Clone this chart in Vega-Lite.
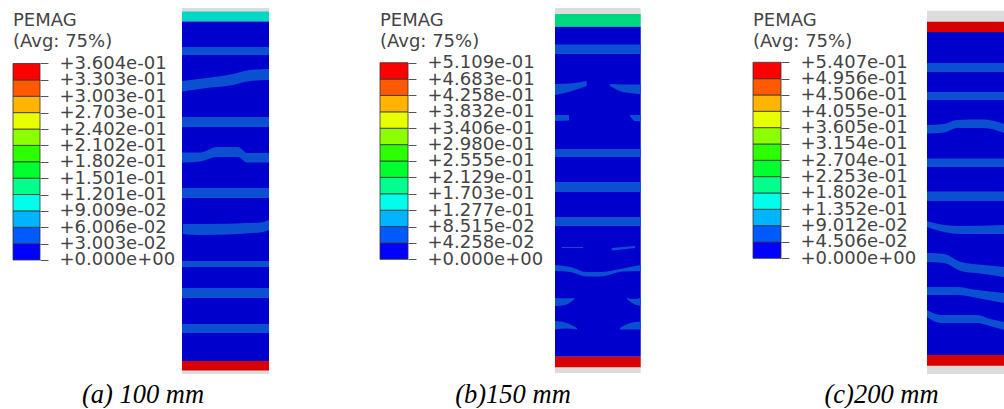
{"$schema":"https://vega.github.io/schema/vega-lite/v6.json","padding":{"left":12,"top":8,"right":0,"bottom":0},"background":"white","config":{"view":{"stroke":null},"title":{"font":"DejaVu Sans","fontSize":18,"fontWeight":"normal","color":"#444444","lineHeight":21,"anchor":"start","frame":"group"}},"bounds":"flush","spacing":0,
"datasets":{
"a_cells":[{"level":"L1","lo":0,"hi":0.03003},{"level":"L2","lo":0.03003,"hi":0.06006},{"level":"L3","lo":0.06006,"hi":0.09009},{"level":"L4","lo":0.09009,"hi":0.1201},{"level":"L5","lo":0.1201,"hi":0.1501},{"level":"L6","lo":0.1501,"hi":0.1802},{"level":"L7","lo":0.1802,"hi":0.2102},{"level":"L8","lo":0.2102,"hi":0.2402},{"level":"L9","lo":0.2402,"hi":0.2703},{"level":"L10","lo":0.2703,"hi":0.3003},{"level":"L11","lo":0.3003,"hi":0.3303},{"level":"L12","lo":0.3303,"hi":0.3604}],
"b_cells":[{"level":"L1","lo":0,"hi":0.04258},{"level":"L2","lo":0.04258,"hi":0.08515},{"level":"L3","lo":0.08515,"hi":0.1277},{"level":"L4","lo":0.1277,"hi":0.1703},{"level":"L5","lo":0.1703,"hi":0.2129},{"level":"L6","lo":0.2129,"hi":0.2555},{"level":"L7","lo":0.2555,"hi":0.298},{"level":"L8","lo":0.298,"hi":0.3406},{"level":"L9","lo":0.3406,"hi":0.3832},{"level":"L10","lo":0.3832,"hi":0.4258},{"level":"L11","lo":0.4258,"hi":0.4683},{"level":"L12","lo":0.4683,"hi":0.5109}],
"c_cells":[{"level":"L1","lo":0,"hi":0.04506},{"level":"L2","lo":0.04506,"hi":0.09012},{"level":"L3","lo":0.09012,"hi":0.1352},{"level":"L4","lo":0.1352,"hi":0.1802},{"level":"L5","lo":0.1802,"hi":0.2253},{"level":"L6","lo":0.2253,"hi":0.2704},{"level":"L7","lo":0.2704,"hi":0.3154},{"level":"L8","lo":0.3154,"hi":0.3605},{"level":"L9","lo":0.3605,"hi":0.4055},{"level":"L10","lo":0.4055,"hi":0.4506},{"level":"L11","lo":0.4506,"hi":0.4956},{"level":"L12","lo":0.4956,"hi":0.5407}],
"a_regions":[{"region":"outside","y0":8,"y1":374},{"region":"cyan","y0":11.5,"y1":21.5},{"region":"body","y0":21.5,"y1":361},{"region":"red","y0":361,"y1":370.5}],
"b_regions":[{"region":"outside","y0":8,"y1":373},{"region":"green","y0":14,"y1":26.7},{"region":"body","y0":26.7,"y1":356.7},{"region":"red","y0":356.7,"y1":367.3}],
"c_regions":[{"region":"outside","y0":10.7,"y1":374},{"region":"red","y0":21.7,"y1":32},{"region":"body","y0":32,"y1":355},{"region":"red","y0":355,"y1":365.7}],
"a_bands":[
{"band":"1","x":182,"top":47,"bottom":55},{"band":"1","x":269,"top":47,"bottom":55},
{"band":"2","x":182,"top":81,"bottom":91.5},{"band":"2","x":207,"top":78,"bottom":88},{"band":"2","x":233,"top":74,"bottom":85},{"band":"2","x":250,"top":70,"bottom":81},{"band":"2","x":269,"top":69,"bottom":80},
{"band":"3","x":182,"top":117,"bottom":127},{"band":"3","x":269,"top":117,"bottom":127},
{"band":"4","x":182,"top":152.5,"bottom":162.5},{"band":"4","x":200,"top":152.5,"bottom":161.5},{"band":"4","x":217,"top":147,"bottom":157},{"band":"4","x":238,"top":147,"bottom":157},{"band":"4","x":247,"top":153,"bottom":162.5},{"band":"4","x":269,"top":153,"bottom":162.5},
{"band":"5","x":182,"top":188,"bottom":198},{"band":"5","x":269,"top":188,"bottom":198},
{"band":"6","x":183,"top":224,"bottom":234},{"band":"6","x":200,"top":224,"bottom":235},{"band":"6","x":260,"top":222.5,"bottom":232.5},{"band":"6","x":269,"top":220,"bottom":230},
{"band":"7","x":182,"top":261,"bottom":267},{"band":"7","x":269,"top":261,"bottom":267},
{"band":"8","x":182,"top":288,"bottom":298},{"band":"8","x":269,"top":288,"bottom":298},
{"band":"9","x":182,"top":324,"bottom":333},{"band":"9","x":269,"top":324,"bottom":333}],
"b_bands":[
{"band":"1","x":555,"top":44.5,"bottom":54},{"band":"1","x":640.7,"top":44.5,"bottom":54},
{"band":"2L","x":555,"top":84,"bottom":95},{"band":"2L","x":570,"top":83.5,"bottom":91.5},{"band":"2L","x":586.7,"top":81,"bottom":86},
{"band":"2R","x":610,"top":84,"bottom":86},{"band":"2R","x":623,"top":84.5,"bottom":92},{"band":"2R","x":640.7,"top":84.5,"bottom":94},
{"band":"3L","x":555,"top":115,"bottom":121},{"band":"3L","x":569,"top":115,"bottom":120.5},
{"band":"3R","x":630,"top":115,"bottom":116},{"band":"3R","x":635,"top":115,"bottom":121},{"band":"3R","x":640.7,"top":115,"bottom":121.5},
{"band":"4","x":555,"top":149,"bottom":157},{"band":"4","x":640.7,"top":149,"bottom":157},
{"band":"5","x":555,"top":182,"bottom":192},{"band":"5","x":640.7,"top":182,"bottom":192},
{"band":"6","x":555,"top":217,"bottom":226},{"band":"6","x":640.7,"top":217,"bottom":226},
{"band":"7L","x":561.7,"top":247,"bottom":248},{"band":"7L","x":583,"top":247,"bottom":248},
{"band":"7R","x":611.7,"top":248,"bottom":250.5},{"band":"7R","x":635,"top":246,"bottom":248},
{"band":"8","x":555,"top":265,"bottom":271},{"band":"8","x":570,"top":267,"bottom":272},{"band":"8","x":587,"top":272,"bottom":276.5},{"band":"8","x":600,"top":272,"bottom":276.5},{"band":"8","x":623,"top":268.5,"bottom":271.5},{"band":"8","x":640.7,"top":265,"bottom":271},
{"band":"9L","x":555,"top":298,"bottom":306},{"band":"9L","x":565,"top":298.5,"bottom":305},{"band":"9L","x":574,"top":298,"bottom":299.5},
{"band":"9R","x":627,"top":298,"bottom":299},{"band":"9R","x":633,"top":299,"bottom":303.5},{"band":"9R","x":640.7,"top":298,"bottom":306},
{"band":"10L","x":555,"top":321,"bottom":329.5},{"band":"10L","x":567,"top":323,"bottom":328.5},{"band":"10L","x":577,"top":328,"bottom":329.5},
{"band":"10R","x":620,"top":328,"bottom":329.5},{"band":"10R","x":630,"top":323,"bottom":329.5},{"band":"10R","x":640.7,"top":321.5,"bottom":329.5}],
"c_bands":[
{"band":"1","x":927,"top":63,"bottom":72},{"band":"1","x":1004,"top":63,"bottom":72},
{"band":"2","x":927,"top":92,"bottom":100},{"band":"2","x":1004,"top":92,"bottom":100},
{"band":"3","x":927,"top":125,"bottom":133.5},{"band":"3","x":944,"top":124,"bottom":132.5},{"band":"3","x":957,"top":120,"bottom":128},{"band":"3","x":984,"top":119.5,"bottom":128},{"band":"3","x":1004,"top":124,"bottom":133},
{"band":"4","x":927,"top":158.5,"bottom":167},{"band":"4","x":1004,"top":158.5,"bottom":167},
{"band":"5","x":927,"top":191.5,"bottom":201},{"band":"5","x":1004,"top":191.5,"bottom":201},
{"band":"6","x":927,"top":221,"bottom":227},{"band":"6","x":944,"top":225,"bottom":232},{"band":"6","x":961,"top":226,"bottom":234},{"band":"6","x":1004,"top":225,"bottom":234},
{"band":"7","x":927,"top":253,"bottom":262},{"band":"7","x":944,"top":254,"bottom":263},{"band":"7","x":961,"top":262,"bottom":271},{"band":"7","x":984,"top":265,"bottom":274},{"band":"7","x":1004,"top":267,"bottom":277},
{"band":"8","x":927,"top":287,"bottom":295},{"band":"8","x":957,"top":287,"bottom":295},{"band":"8","x":977,"top":290,"bottom":298},{"band":"8","x":1004,"top":293,"bottom":303},
{"band":"9","x":927,"top":310,"bottom":317},{"band":"9","x":941,"top":315,"bottom":323},{"band":"9","x":977,"top":315,"bottom":323},{"band":"9","x":990,"top":319,"bottom":326},{"band":"9","x":1004,"top":322,"bottom":330}]
},
"hconcat":[
{"width":367,"height":366,"title":{"text":["PEMAG","(Avg: 75%)"],"orient":"top","baseline":"bottom","offset":-61},
"resolve":{"scale":{"y":"independent"},"axis":{"x":"independent"}},
"layer":[
{"data":{"name":"a_cells"},"mark":{"type":"rect","stroke":"#333333","strokeWidth":0.8},"encoding":{
"x":{"datum":13,"type":"quantitative","scale":{"domain":[13,380],"nice":false,"zero":false},"axis":{"labels":false,"ticks":false,"domain":false,"grid":false,"title":"(a) 100 mm","titleX":129.5,"titleY":28,"titleAnchor":"middle","titleAlign":"center","titleBaseline":"alphabetic","titleFont":"Liberation Serif","titleFontStyle":"italic","titleFontWeight":"normal","titleFontSize":26.5,"titleColor":"#000000"}},
"x2":{"datum":40},
"y":{"field":"lo","type":"quantitative","scale":{"domain":[-0.20909,0.46219],"nice":false,"zero":false},"axis":{"orient":"right","offset":-340,"title":null,"values":[0,0.03003,0.06006,0.09009,0.1201,0.1501,0.1802,0.2102,0.2402,0.2703,0.3003,0.3303,0.3604],"labelExpr":"replace(format(datum.value,'+.3e'),/e([-+])(\\d)$/,'e$10$2')","grid":false,"domain":false,"tickSize":8,"tickColor":"#555555","labelPadding":11,"labelFont":"DejaVu Sans","labelFontSize":18,"labelColor":"#444444","labelOverlap":false,"labelFlush":false,"labelBound":false}},
"y2":{"field":"hi"},
"fill":{"field":"level","type":"nominal","legend":null,"scale":{"domain":["L1","L2","L3","L4","L5","L6","L7","L8","L9","L10","L11","L12","outside","body","band","cyan","green","red"],"range":["#0000ff","#005aff","#00b4ff","#00ffea","#00ff8c","#00ff2e","#2eff00","#8cff00","#e8ff00","#ffb400","#ff5a00","#ff0000","#dcdcdc","#0000cc","#0b50d0","#00d8c4","#00d880","#d90000"]}}}},
{"data":{"name":"a_regions"},"mark":"rect","encoding":{
"x":{"datum":182,"type":"quantitative","axis":null},"x2":{"datum":269},
"y":{"field":"y0","type":"quantitative","scale":{"domain":[374,8],"nice":false,"zero":false},"axis":null},"y2":{"field":"y1"},
"fill":{"field":"region","type":"nominal","legend":null,"scale":{"domain":["L1","L2","L3","L4","L5","L6","L7","L8","L9","L10","L11","L12","outside","body","band","cyan","green","red"],"range":["#0000ff","#005aff","#00b4ff","#00ffea","#00ff8c","#00ff2e","#2eff00","#8cff00","#e8ff00","#ffb400","#ff5a00","#ff0000","#dcdcdc","#0000cc","#0b50d0","#00d8c4","#00d880","#d90000"]}}}},
{"data":{"name":"a_bands"},"mark":{"type":"area","orient":"vertical","interpolate":"monotone","color":"#0b50d0"},"encoding":{
"x":{"field":"x","type":"quantitative","axis":null},
"y":{"field":"top","type":"quantitative","scale":{"domain":[374,8],"nice":false,"zero":false},"axis":null},"y2":{"field":"bottom"},
"detail":{"field":"band","type":"nominal"}}}
]},
{"width":373,"height":366,"title":{"text":["PEMAG","(Avg: 75%)"],"orient":"top","baseline":"bottom","offset":-61},
"resolve":{"scale":{"y":"independent"},"axis":{"x":"independent"}},
"layer":[
{"data":{"name":"b_cells"},"mark":{"type":"rect","stroke":"#333333","strokeWidth":0.8},"encoding":{
"x":{"datum":380,"type":"quantitative","scale":{"domain":[380,753],"nice":false,"zero":false},"axis":{"labels":false,"ticks":false,"domain":false,"grid":false,"title":"(b)150 mm","titleX":132.5,"titleY":28,"titleAnchor":"middle","titleAlign":"center","titleBaseline":"alphabetic","titleFont":"Liberation Serif","titleFontStyle":"italic","titleFontWeight":"normal","titleFontSize":26.5,"titleColor":"#000000"}},
"x2":{"datum":408},
"y":{"field":"lo","type":"quantitative","scale":{"domain":[-0.29807,0.65305],"nice":false,"zero":false},"axis":{"orient":"right","offset":-345,"title":null,"values":[0,0.04258,0.08515,0.1277,0.1703,0.2129,0.2555,0.298,0.3406,0.3832,0.4258,0.4683,0.5109],"labelExpr":"replace(format(datum.value,'+.3e'),/e([-+])(\\d)$/,'e$10$2')","grid":false,"domain":false,"tickSize":8,"tickColor":"#555555","labelPadding":11,"labelFont":"DejaVu Sans","labelFontSize":18,"labelColor":"#444444","labelOverlap":false,"labelFlush":false,"labelBound":false}},
"y2":{"field":"hi"},
"fill":{"field":"level","type":"nominal","legend":null,"scale":{"domain":["L1","L2","L3","L4","L5","L6","L7","L8","L9","L10","L11","L12","outside","body","band","cyan","green","red"],"range":["#0000ff","#005aff","#00b4ff","#00ffea","#00ff8c","#00ff2e","#2eff00","#8cff00","#e8ff00","#ffb400","#ff5a00","#ff0000","#dcdcdc","#0000cc","#0b50d0","#00d8c4","#00d880","#d90000"]}}}},
{"data":{"name":"b_regions"},"mark":"rect","encoding":{
"x":{"datum":555,"type":"quantitative","axis":null},"x2":{"datum":640.7},
"y":{"field":"y0","type":"quantitative","scale":{"domain":[374,8],"nice":false,"zero":false},"axis":null},"y2":{"field":"y1"},
"fill":{"field":"region","type":"nominal","legend":null,"scale":{"domain":["L1","L2","L3","L4","L5","L6","L7","L8","L9","L10","L11","L12","outside","body","band","cyan","green","red"],"range":["#0000ff","#005aff","#00b4ff","#00ffea","#00ff8c","#00ff2e","#2eff00","#8cff00","#e8ff00","#ffb400","#ff5a00","#ff0000","#dcdcdc","#0000cc","#0b50d0","#00d8c4","#00d880","#d90000"]}}}},
{"data":{"name":"b_bands"},"mark":{"type":"area","orient":"vertical","interpolate":"monotone","color":"#0b50d0"},"encoding":{
"x":{"field":"x","type":"quantitative","axis":null},
"y":{"field":"top","type":"quantitative","scale":{"domain":[374,8],"nice":false,"zero":false},"axis":null},"y2":{"field":"bottom"},
"detail":{"field":"band","type":"nominal"}}}
]},
{"width":251,"height":366,"title":{"text":["PEMAG","(Avg: 75%)"],"orient":"top","baseline":"bottom","offset":-61},
"resolve":{"scale":{"y":"independent"},"axis":{"x":"independent"}},
"layer":[
{"data":{"name":"c_cells"},"mark":{"type":"rect","stroke":"#333333","strokeWidth":0.8},"encoding":{
"x":{"datum":753,"type":"quantitative","scale":{"domain":[753,1004],"nice":false,"zero":false},"axis":{"labels":false,"ticks":false,"domain":false,"grid":false,"title":"(c)200 mm","titleX":128,"titleY":28,"titleAnchor":"middle","titleAlign":"center","titleBaseline":"alphabetic","titleFont":"Liberation Serif","titleFontStyle":"italic","titleFontWeight":"normal","titleFontSize":26.5,"titleColor":"#000000"}},
"x2":{"datum":781},
"y":{"field":"lo","type":"quantitative","scale":{"domain":[-0.31918,0.6905],"nice":false,"zero":false},"axis":{"orient":"right","offset":-223,"title":null,"values":[0,0.04506,0.09012,0.1352,0.1802,0.2253,0.2704,0.3154,0.3605,0.4055,0.4506,0.4956,0.5407],"labelExpr":"replace(format(datum.value,'+.3e'),/e([-+])(\\d)$/,'e$10$2')","grid":false,"domain":false,"tickSize":8,"tickColor":"#555555","labelPadding":11,"labelFont":"DejaVu Sans","labelFontSize":18,"labelColor":"#444444","labelOverlap":false,"labelFlush":false,"labelBound":false}},
"y2":{"field":"hi"},
"fill":{"field":"level","type":"nominal","legend":null,"scale":{"domain":["L1","L2","L3","L4","L5","L6","L7","L8","L9","L10","L11","L12","outside","body","band","cyan","green","red"],"range":["#0000ff","#005aff","#00b4ff","#00ffea","#00ff8c","#00ff2e","#2eff00","#8cff00","#e8ff00","#ffb400","#ff5a00","#ff0000","#dcdcdc","#0000cc","#0b50d0","#00d8c4","#00d880","#d90000"]}}}},
{"data":{"name":"c_regions"},"mark":"rect","encoding":{
"x":{"datum":927,"type":"quantitative","axis":null},"x2":{"datum":1004},
"y":{"field":"y0","type":"quantitative","scale":{"domain":[374,8],"nice":false,"zero":false},"axis":null},"y2":{"field":"y1"},
"fill":{"field":"region","type":"nominal","legend":null,"scale":{"domain":["L1","L2","L3","L4","L5","L6","L7","L8","L9","L10","L11","L12","outside","body","band","cyan","green","red"],"range":["#0000ff","#005aff","#00b4ff","#00ffea","#00ff8c","#00ff2e","#2eff00","#8cff00","#e8ff00","#ffb400","#ff5a00","#ff0000","#dcdcdc","#0000cc","#0b50d0","#00d8c4","#00d880","#d90000"]}}}},
{"data":{"name":"c_bands"},"mark":{"type":"area","orient":"vertical","interpolate":"monotone","color":"#0b50d0"},"encoding":{
"x":{"field":"x","type":"quantitative","axis":null},
"y":{"field":"top","type":"quantitative","scale":{"domain":[374,8],"nice":false,"zero":false},"axis":null},"y2":{"field":"bottom"},
"detail":{"field":"band","type":"nominal"}}}
]}
]}
